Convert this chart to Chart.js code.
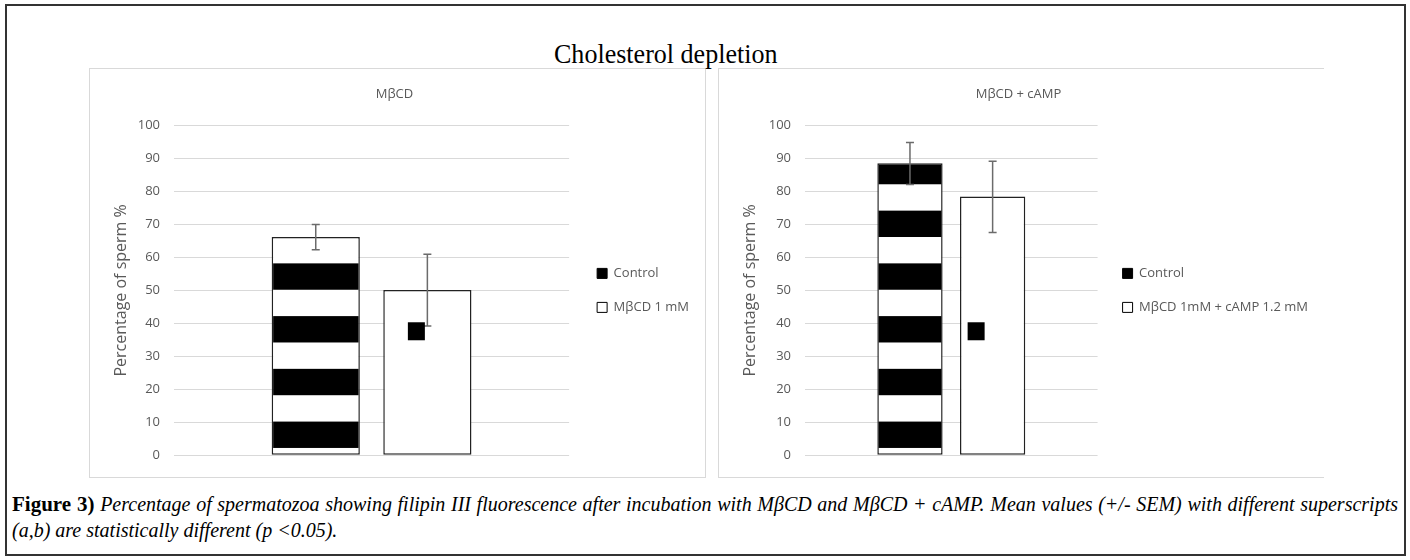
<!DOCTYPE html>
<html lang="en">
<head>
<meta charset="UTF-8">
<title>Cholesterol depletion</title>
<script src="https://cdn.jsdelivr.net/npm/chart.js"></script>
<style>
  * { margin: 0; padding: 0; box-sizing: border-box; }
  body { width: 1410px; height: 560px; background: #fff; position: relative; overflow: hidden; font-family: 'Open Sans', sans-serif; }
  .frame { position: absolute; left: 5px; top: 4px; width: 1401px; height: 552px; border: 2px solid #333; }
  .panel { position: absolute; top: 68px; height: 410px; border: 1px solid #d9d9d9; background: #fff; }
  #p1 { left: 89px; width: 617px; }
  #p2 { left: 718px; width: 606px; border-right: none; }
  .panel canvas { display: block; }
  .heading { position: absolute; z-index: 2; left: 554px; top: 39px; font-family: 'Liberation Serif', serif; font-size: 28px; line-height: 30px; color: #000; white-space: nowrap; transform: scaleX(0.93); transform-origin: left center; }
  .caption { position: absolute; left: 12px; top: 491px; width: 1386px; font-family: 'Liberation Serif', serif; font-style: italic; font-size: 20px; line-height: 26px; color: #000; }
  .caption .l1 { display: block; text-align: justify; text-align-last: justify; }
  .caption b { font-style: normal; font-size: 21px; }
</style>
</head>
<body>
  <div class="frame"></div>
  <div class="panel" id="p1"><canvas id="c1" width="615" height="408"></canvas></div>
  <div class="panel" id="p2"><canvas id="c2" width="605" height="408"></canvas></div>
  <div class="heading">Cholesterol depletion</div>
  <div class="caption">
    <span class="l1"><b>Figure 3)</b> Percentage of spermatozoa showing filipin III fluorescence after incubation with MβCD and MβCD + cAMP. Mean values (+/- SEM) with different superscripts</span>
    (a,b) are statistically different (p &lt;0.05).
  </div>

<script>
// one category per panel, two bars each
const categories = [''];
const panelTitles = ['MβCD', 'MβCD + cAMP'];
const controlLabel = 'Control';
const treatedLabels = ['MβCD 1 mM', 'MβCD 1mM + cAMP 1.2 mM'];

const controlMeans = [66.2, 88.6];
const controlLow   = [62.3, 82.1];
const controlHigh  = [70.0, 94.9];

const treatedMeans = [50.1, 78.5];
const treatedLow   = [39.2, 67.6];
const treatedHigh  = [61.0, 89.2];

// stray black key square sitting inside the second bar
const strayKeyValues = [37.6, 37.6];

const yTicks = [0, 10, 20, 30, 40, 50, 60, 70, 80, 90, 100];

Chart.defaults.font.family = "'Open Sans', sans-serif";
Chart.defaults.color = '#595959';

// horizontal black/white stripes, anchored to the value axis
function stripes(chart) {
  const y = chart.scales.y;
  if (!y || !chart.chartArea) return '#000';
  if (chart.$stripes) return chart.$stripes;
  const c = document.createElement('canvas');
  c.width = 1;
  c.height = chart.height;
  const g = c.getContext('2d');
  g.fillStyle = '#fff';
  g.fillRect(0, 0, 1, c.height);
  g.fillStyle = '#000';
  for (let v = 2.2; v < 100; v += 16) {
    const top = y.getPixelForValue(v + 8);
    const bot = y.getPixelForValue(v);
    g.fillRect(0, top, 1, bot - top);
  }
  chart.$stripes = g.createPattern(c, 'repeat');
  return chart.$stripes;
}

const extras = {
  id: 'extras',
  afterDatasetsDraw(chart, args, opts) {
    const { ctx } = chart;
    const y = chart.scales.y;
    ctx.save();
    ctx.strokeStyle = '#6b6b6b';
    ctx.lineWidth = 1.5;
    opts.errors.forEach((e, i) => {
      const bar = chart.getDatasetMeta(i).data[0];
      const top = y.getPixelForValue(e[1]);
      const bot = y.getPixelForValue(e[0]);
      ctx.beginPath();
      ctx.moveTo(bar.x, top); ctx.lineTo(bar.x, bot);
      ctx.moveTo(bar.x - 4, top); ctx.lineTo(bar.x + 4, top);
      ctx.moveTo(bar.x - 4, bot); ctx.lineTo(bar.x + 4, bot);
      ctx.stroke();
    });
    const b = chart.getDatasetMeta(1).data[0];
    const yc = y.getPixelForValue(opts.stray);
    ctx.fillStyle = '#000';
    ctx.fillRect(b.x - opts.strayShift - 8.5, yc - 9, 17, 18);
    ctx.restore();
  }
};

const axisWidth = [84, 86];
const gapWidth = [7, 4];
const padRight = [6, 6];
const strayShift = [11, 16.5];

function makeChart(id, k) {
  new Chart(document.getElementById(id), {
    type: 'bar',
    data: {
      labels: categories,
      datasets: [
        {
          label: controlLabel,
          data: [controlMeans[k]],
          backgroundColor: c => stripes(c.chart),
          borderColor: '#222',
          borderWidth: 1.5,
          borderSkipped: false,
          categoryPercentage: 0.565,
          barPercentage: 0.79
        },
        {
          label: treatedLabels[k],
          data: [treatedMeans[k]],
          backgroundColor: '#fff',
          borderColor: '#222',
          borderWidth: 1.5,
          borderSkipped: false,
          categoryPercentage: 0.565,
          barPercentage: 0.79
        }
      ]
    },
    options: {
      responsive: false,
      animation: false,
      layout: { padding: { top: 0, right: padRight[k], bottom: 20, left: 0 } },
      scales: {
        x: { display: false },
        y: {
          min: 0,
          max: 100,
          afterBuildTicks: s => { s.ticks = yTicks.map(v => ({ value: v })); },
          afterFit: s => { s.width = axisWidth[k]; },
          ticks: { padding: 14, color: '#595959', font: { size: 13 } },
          grid: { color: '#d9d9d9', drawTicks: false },
          border: { display: false },
          title: {
            display: true,
            text: 'Percentage of sperm %',
            color: '#595959',
            font: { size: 16 },
            padding: { top: 22, bottom: 0 }
          }
        },
        // empty spacer between plot and legend
        gap: {
          type: 'linear',
          position: 'right',
          grid: { display: false },
          ticks: { display: false },
          border: { display: false },
          afterFit: s => { s.width = gapWidth[k]; }
        }
      },
      plugins: {
        title: {
          display: true,
          text: panelTitles[k],
          color: '#595959',
          font: { size: 13, weight: 'normal' },
          padding: { top: 17, bottom: 24 }
        },
        legend: {
          position: 'right',
          fullSize: false,
          maxWidth: 320,
          labels: {
            boxWidth: 10,
            boxHeight: 10,
            padding: 21,
            color: '#595959',
            font: { size: 13 },
            generateLabels: chart => chart.data.datasets.map((ds, i) => ({
              text: ds.label,
              fillStyle: i === 0 ? '#000' : '#fff',
              strokeStyle: '#000',
              lineWidth: 1,
              fontColor: '#595959',
              datasetIndex: i
            }))
          }
        },
        tooltip: { enabled: false },
        extras: {
          errors: [[controlLow[k], controlHigh[k]], [treatedLow[k], treatedHigh[k]]],
          stray: strayKeyValues[k],
          strayShift: strayShift[k]
        }
      }
    },
    plugins: [extras]
  });
}

makeChart('c1', 0);
makeChart('c2', 1);
</script>
</body>
</html>
